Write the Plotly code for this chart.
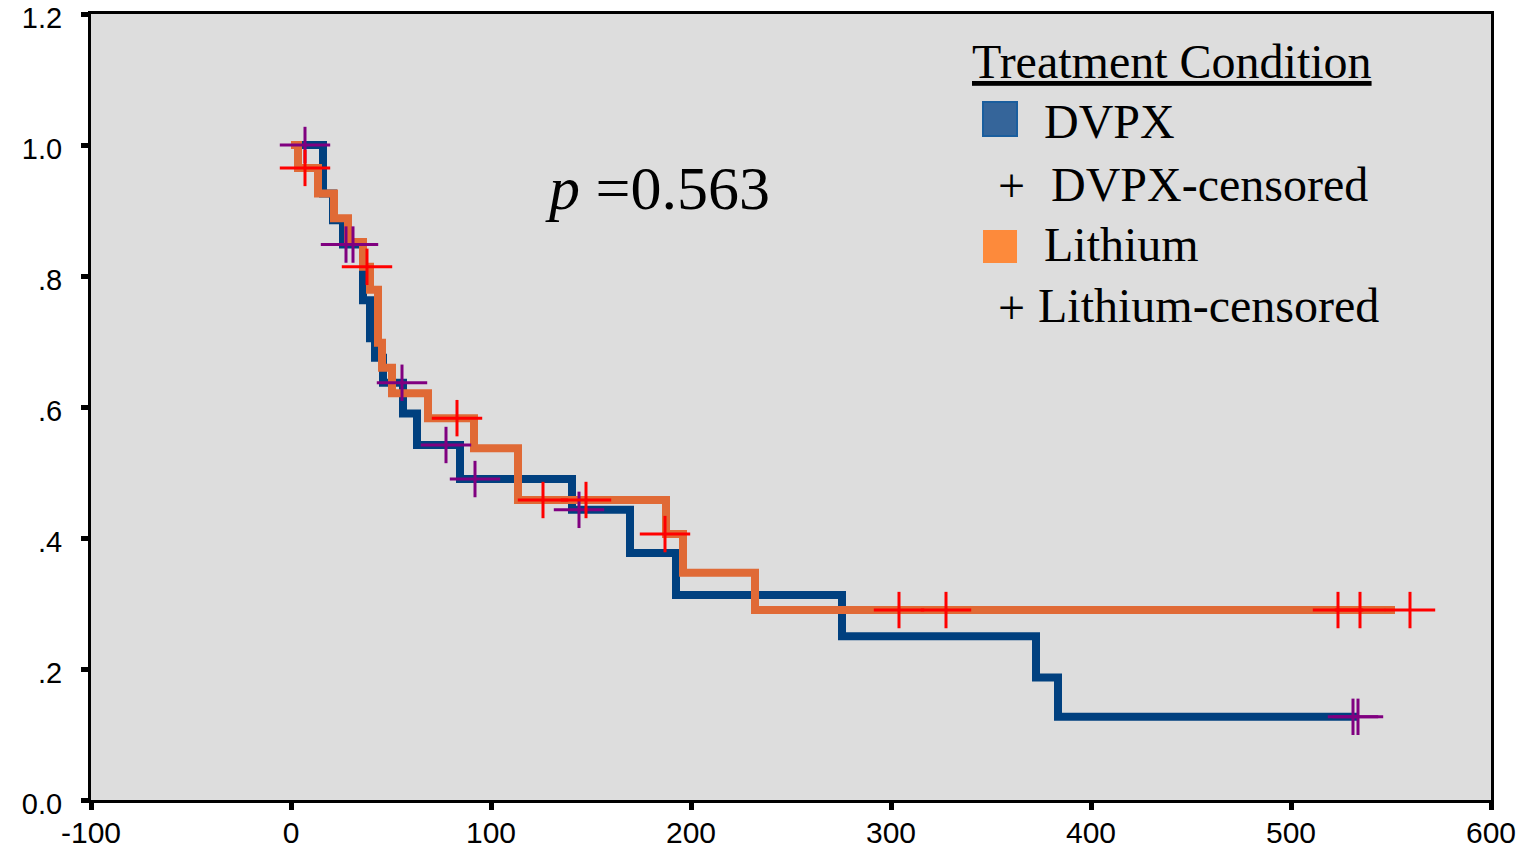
import plotly.graph_objects as go

# ---------------- data ----------------
dvpx_times = [0, 16, 21, 26, 36, 39.5, 42, 46, 56, 63, 84.5, 140.5, 169.5, 192.5, 275.5, 372.5, 383.5, 533.5]
dvpx_surv = [1.0, 0.926, 0.885, 0.848, 0.763, 0.705, 0.675, 0.637, 0.59, 0.542, 0.49, 0.443, 0.377, 0.313, 0.25, 0.187, 0.127, 0.127]

lith_times = [0, 3.5, 13.5, 21.5, 28.5, 36, 39.5, 43.5, 45.5, 50.5, 68.5, 91.5, 113.5, 187.5, 196, 232, 552]
lith_surv = [1.0, 0.965, 0.926, 0.888, 0.852, 0.814, 0.779, 0.698, 0.66, 0.621, 0.583, 0.537, 0.458, 0.406, 0.347, 0.29, 0.29]

dvpx_cens_t = [7, 27.5, 31, 55.5, 77.5, 92, 144, 531, 533.5]
dvpx_cens_s = [1.0, 0.848, 0.848, 0.637, 0.542, 0.49, 0.443, 0.127, 0.127]

lith_cens_t = [7, 38, 83, 126, 147.5, 187, 304, 327.5, 523.5, 534.5, 559.5]
lith_cens_s = [0.965, 0.814, 0.583, 0.458, 0.458, 0.406, 0.29, 0.29, 0.29, 0.29, 0.29]

x_ticks = [-100, 0, 100, 200, 300, 400, 500, 600]
y_ticks = [0.0, 0.2, 0.4, 0.6, 0.8, 1.0, 1.2]
y_tick_text = ["0.0", ".2", ".4", ".6", ".8", "1.0", "1.2"]

p_text = "<i>p</i> =0.563"
legend_title = "Treatment Condition"
legend_labels = ["DVPX", "DVPX-censored", "Lithium", "Lithium-censored"]

# ---------------- styles ----------------
BLUE = "#00407f"
ORANGE = "#e06a36"
PURPLE = "#800080"
RED = "#ff0000"
BG = "#dddddd"
SERIF = "Liberation Serif, Times New Roman, serif"
SANS = "Liberation Sans, Arial, sans-serif"

W, H = 1535, 849
L, R, T, B = 91, 44, 14, 49
PW, PH = W - L - R, H - T - B


def px(x):
    return (x - L) / PW


def py(y):
    return (H - B - y) / PH


fig = go.Figure()

fig.add_trace(go.Scatter(x=dvpx_times, y=dvpx_surv, mode="lines", line=dict(color=BLUE, width=8, shape="hv"),
                         showlegend=False, hoverinfo="skip"))
fig.add_trace(go.Scatter(x=lith_times, y=lith_surv, mode="lines", line=dict(color=ORANGE, width=8, shape="hv"),
                         showlegend=False, hoverinfo="skip"))

for tt, ss, col in [(dvpx_cens_t, dvpx_cens_s, PURPLE), (lith_cens_t, lith_cens_s, RED)]:
    fig.add_trace(go.Scatter(x=tt, y=ss, mode="markers",
                             marker=dict(symbol="line-ew", size=36, line=dict(color=col, width=3)),
                             showlegend=False, hoverinfo="skip"))
    fig.add_trace(go.Scatter(x=tt, y=ss, mode="markers",
                             marker=dict(symbol="line-ns", size=26, line=dict(color=col, width=3)),
                             showlegend=False, hoverinfo="skip"))

LEG = 48
annotations = [
    dict(text=p_text, x=px(543), y=py(188), xanchor="left", yanchor="middle",
         font=dict(family=SERIF, size=62, color="black")),
    dict(text="<u>" + legend_title + "</u>", x=px(970), y=py(62), xanchor="left", yanchor="middle",
         font=dict(family=SERIF, size=LEG, color="black")),
    dict(text=legend_labels[0], x=px(1042), y=py(121), xanchor="left", yanchor="middle",
         font=dict(family=SERIF, size=LEG, color="black")),
    dict(text="+", x=px(996), y=py(186), xanchor="left", yanchor="middle",
         font=dict(family=SERIF, size=LEG, color="black")),
    dict(text=legend_labels[1], x=px(1049), y=py(184), xanchor="left", yanchor="middle",
         font=dict(family=SERIF, size=LEG, color="black")),
    dict(text=legend_labels[2], x=px(1042), y=py(244), xanchor="left", yanchor="middle",
         font=dict(family=SERIF, size=LEG, color="black")),
    dict(text="+", x=px(996), y=py(308), xanchor="left", yanchor="middle",
         font=dict(family=SERIF, size=LEG, color="black")),
    dict(text=legend_labels[3], x=px(1036), y=py(305), xanchor="left", yanchor="middle",
         font=dict(family=SERIF, size=LEG, color="black")),
]
for a in annotations:
    a.update(xref="paper", yref="paper", showarrow=False)

shapes = [
    dict(type="rect", xref="paper", yref="paper", x0=px(983), x1=px(1017), y0=py(136), y1=py(102),
         fillcolor="#35659a", line=dict(color="#1a5e9e", width=2)),
    dict(type="rect", xref="paper", yref="paper", x0=px(983), x1=px(1017), y0=py(263), y1=py(230),
         fillcolor="#fd8a3b", line=dict(width=0)),
]

axis_common = dict(showgrid=False, zeroline=False, showline=True, linecolor="black", linewidth=3, mirror=True,
                   ticks="outside", ticklen=7, tickwidth=5, tickcolor="black", automargin=False,
                   ticklabeloverflow="allow")

fig.update_layout(
    width=W, height=H,
    margin=dict(l=L, r=R, t=T, b=B),
    paper_bgcolor="white",
    plot_bgcolor=BG,
    annotations=annotations,
    shapes=shapes,
    xaxis=dict(range=[-100, 600], tickvals=x_ticks, ticktext=[str(v) for v in x_ticks],
               ticklabelstandoff=-3, tickfont=dict(family=SANS, size=30, color="black"), **axis_common),
    yaxis=dict(range=[0, 1.2], tickvals=y_ticks, ticktext=y_tick_text,
               ticklabelstandoff=13, ticklabelshift=4,
               tickfont=dict(family=SANS, size=29, color="black"), **axis_common),
)

fig.write_html("out.html")
